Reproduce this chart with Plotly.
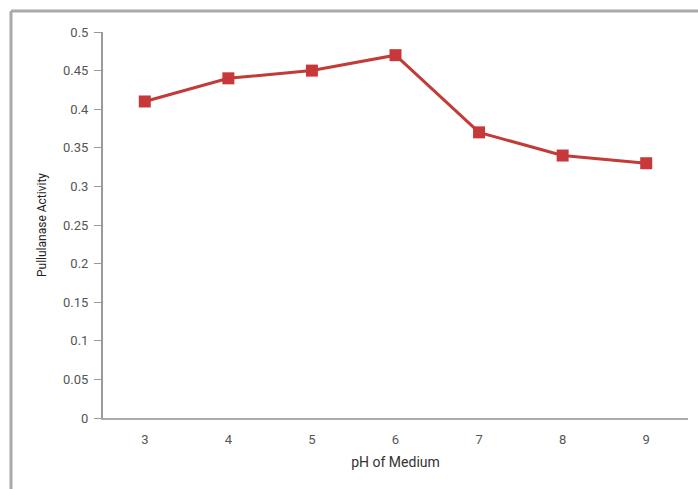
import plotly.graph_objects as go

ph = ["3", "4", "5", "6", "7", "8", "9"]
activity = [0.41, 0.44, 0.45, 0.47, 0.37, 0.34, 0.33]
y_ticks = [0, 0.05, 0.1, 0.15, 0.2, 0.25, 0.3, 0.35, 0.4, 0.45, 0.5]
y_labels = ["0", "0.05", "0.1", "0.15", "0.2", "0.25", "0.3", "0.35", "0.4", "0.45", "0.5"]

W, H = 698, 489
L, R, T, B = 103, 10, 32, 71
pw, ph_h = W - L - R, H - T - B

fig = go.Figure(go.Scatter(
    x=ph, y=activity, mode="lines+markers",
    line=dict(color="#C23B36", width=3),
    marker=dict(symbol="square", size=12, color="#C8383A"),
))

def px_x(p):
    return (p - L) / pw

def px_y(p):
    return (H - B - p) / ph_h

fig.add_shape(type="line", xref="paper", yref="paper",
              x0=px_x(11), x1=px_x(700), y0=px_y(11), y1=px_y(11),
              line=dict(color="#AAAAAA", width=3))
fig.add_shape(type="line", xref="paper", yref="paper",
              x0=px_x(11), x1=px_x(11), y0=px_y(11), y1=px_y(492),
              line=dict(color="#AAAAAA", width=3))

fig.update_layout(
    width=W, height=H,
    margin=dict(l=L, r=R, t=T, b=B),
    paper_bgcolor="white", plot_bgcolor="white",
    showlegend=False,
    font=dict(family="Roboto, Arial, sans-serif", size=13, color="#555555"),
    xaxis=dict(
        type="category", range=[-0.5, 6.5],
        showline=True, linecolor="#AAAAAA", linewidth=2,
        showgrid=False, zeroline=False, ticks="",
        ticklabelstandoff=8,
        tickfont=dict(size=13, color="#555555"),
        title=dict(text="pH of Medium", font=dict(size=14, color="#333333"), standoff=12),
    ),
    yaxis=dict(
        range=[0, 0.5], tickvals=y_ticks, ticktext=y_labels,
        showline=True, linecolor="#999999", linewidth=2,
        showgrid=False, zeroline=False,
        ticks="outside", ticklen=7, tickcolor="#999999", tickwidth=1,
        ticklabelstandoff=3,
        tickfont=dict(size=13, color="#555555"),
        title=dict(text="Pullulanase Activity", font=dict(size=12, color="#222222"), standoff=14),
    ),
)

fig.write_html("out.html")
